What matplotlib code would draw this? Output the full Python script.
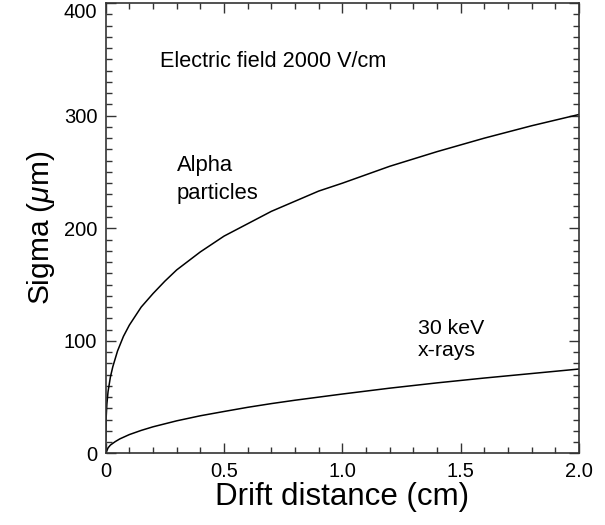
import matplotlib
matplotlib.use("Agg")
import matplotlib.pyplot as plt
import matplotlib.transforms as mtransforms
from matplotlib.ticker import MultipleLocator

plt.rcParams["font.family"] = ["Liberation Sans", "DejaVu Sans"]
plt.rcParams["mathtext.fontset"] = "custom"
plt.rcParams["mathtext.it"] = "Liberation Sans:italic"
plt.rcParams["mathtext.rm"] = "Liberation Sans"

# values
alpha_x = [0.0, 0.002, 0.005, 0.01, 0.02, 0.03, 0.05, 0.075, 0.1, 0.15, 0.2, 0.25,
           0.3, 0.4, 0.5, 0.6, 0.7, 0.8, 0.9, 1.0, 1.2, 1.4, 1.6, 1.8, 2.0]
alpha_y = [12, 32, 44, 55, 68, 77, 91, 104, 114, 130, 142, 153,
           163, 179, 193, 204, 215, 224, 233, 240, 255, 268, 280, 291, 301]

xray_x = [0.0, 0.01, 0.02, 0.04, 0.06, 0.1, 0.15, 0.2, 0.3, 0.4, 0.5, 0.6, 0.7,
          0.8, 1.0, 1.2, 1.4, 1.6, 1.8, 2.0]
xray_y = [0, 5, 7.5, 10.5, 13, 16.8, 20.5, 23.7, 29, 33.5, 37.3, 41, 44.3,
          47.3, 52.8, 58, 62.7, 67, 71, 75]

yticks = [0, 100, 200, 300, 400]
xticks = [0, 0.5, 1.0, 1.5, 2.0]
xticklabels = ["0", "0.5", "1.0", "1.5", "2.0"]

fig = plt.figure(figsize=(6.05, 5.25), dpi=100)
ax = fig.add_axes([0.1747, 0.1362, 0.957 - 0.1747, 0.9943 - 0.1362])

ax.plot(alpha_x, alpha_y, color="black", lw=1.1)
ax.plot(xray_x, xray_y, color="black", lw=1.1)

ax.set_xlim(0, 2.0)
ax.set_ylim(0, 400)
ax.xaxis.set_minor_locator(MultipleLocator(0.1))
ax.yaxis.set_minor_locator(MultipleLocator(10))
ax.set_xticks(xticks, xticklabels)
# the top label is drawn by hand below so it stays inside the picture
ax.set_yticks(yticks, [str(v) for v in yticks[:-1]] + [""])
ax.tick_params(which="both", direction="in", top=True, right=True,
               color="#333333", labelsize=14.5, pad=6)
ax.tick_params(which="major", length=7, width=1.0)
ax.tick_params(which="minor", length=4.5, width=1.0)
for sp in ax.spines.values():
    sp.set_color("#333333")
    sp.set_linewidth(1.2)

trans = mtransforms.blended_transform_factory(ax.transAxes, ax.transData)
ax.text(-0.0175, yticks[-1], str(yticks[-1]), transform=trans, ha="right", va="top",
        fontsize=14.5)

ax.set_xlabel("Drift distance (cm)", fontsize=22.5, labelpad=1)
ax.set_ylabel(r"Sigma ($\mu$m)", fontsize=21.5, labelpad=5)

ax.text(0.23, 348, "Electric field 2000 V/cm", fontsize=15.6, va="center", ha="left")
ax.text(0.30, 243, "Alpha\nparticles", fontsize=15.8, va="center", ha="left", linespacing=1.45)
ax.text(1.32, 101, "30 keV\nx-rays", fontsize=15.3, va="center", ha="left", linespacing=1.2)

fig.savefig("out.png", dpi=100)
